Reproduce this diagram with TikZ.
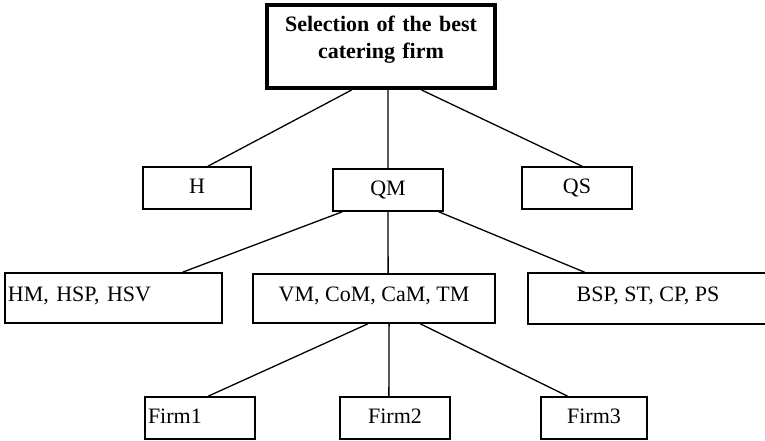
\documentclass[tikz,border=0pt]{standalone}
\usepackage{fontspec}
\setmainfont{Liberation Serif}
\usetikzlibrary{calc}

\tikzset{
  every node/.style={font=\fontsize{22}{27}\selectfont},
  box/.style={draw=black, line width=1.6pt, rectangle, inner xsep=3pt, inner ysep=0pt,
              text height=15pt, text depth=4pt},
  goalbox/.style={draw=black, line width=4pt, rectangle, inner sep=0pt,
                  minimum width=228pt, minimum height=83pt,
                  font=\fontsize{22}{27}\selectfont\bfseries,
                  text width=210pt, align=center, text height=15pt, text depth=46pt},
  critbox/.style={box, minimum height=42pt},
  subbox/.style={box, minimum height=50pt, text depth=9pt},
  firmbox/.style={box, minimum width=110pt, minimum height=42pt, text depth=5pt},
  link/.style={draw=black, line width=1.3pt}
}

\begin{document}
\begin{tikzpicture}[x=1pt, y=-1pt]
  \useasboundingbox (0,0) rectangle (765,440);

  % goal
  \node[goalbox] (goal) at (381,46.5) {Selection of the best\\catering firm};

  % criteria
  \node[critbox, minimum width=108pt] (h)  at (197,188) {H};
  \node[critbox, minimum width=110pt] (qm) at (388,190) {QM};
  \node[critbox, minimum width=110pt] (qs) at (577,188) {QS};

  % sub-criteria
  \node[subbox, minimum width=217pt, text width=211pt, align=left] (hm) at (113.5,298) {HM, HSP, HSV};
  \node[subbox, minimum width=242pt, minimum height=49pt] (vm) at (374,298.5) {VM, CoM, CaM, TM};
  \node[subbox, minimum width=240pt, minimum height=51pt] (bsp) at (648,298.5) {BSP, ST, CP, PS};

  % alternatives
  \node[firmbox, text width=104pt, align=left] (f1) at (200,418) {Firm1};
  \node[firmbox] (f2) at (395,418) {Firm2};
  \node[firmbox, minimum width=106pt] (f3) at (594,418) {Firm3};

  % goal -> criteria
  \draw[link] ($(goal.south west)!0.373!(goal.south east)$) -- ($(h.north west)!0.60!(h.north east)$);
  \draw[link] ($(goal.south west)!0.53!(goal.south east)$) -- (qm.north);
  \draw[link] ($(goal.south west)!0.675!(goal.south east)$) -- ($(qs.north west)!0.545!(qs.north east)$);

  % QM -> sub-criteria
  \draw[link] ($(qm.south west)!0.09!(qm.south east)$) -- ($(hm.north west)!0.816!(hm.north east)$);
  \draw[link] (qm.south) -- ($(vm.north west)!0.558!(vm.north east)$);
  \draw[link] ($(qm.south west)!0.955!(qm.south east)$) -- ($(bsp.north west)!0.2375!(bsp.north east)$);

  % VM -> alternatives
  \draw[link] ($(vm.south west)!0.475!(vm.south east)$) -- ($(f1.north west)!0.573!(f1.north east)$);
  \draw[link] ($(vm.south west)!0.562!(vm.south east)$) -- ($(f2.north west)!0.445!(f2.north east)$);
  \draw[link] ($(vm.south west)!0.69!(vm.south east)$) -- ($(f3.north west)!0.255!(f3.north east)$);
\end{tikzpicture}
\end{document}
